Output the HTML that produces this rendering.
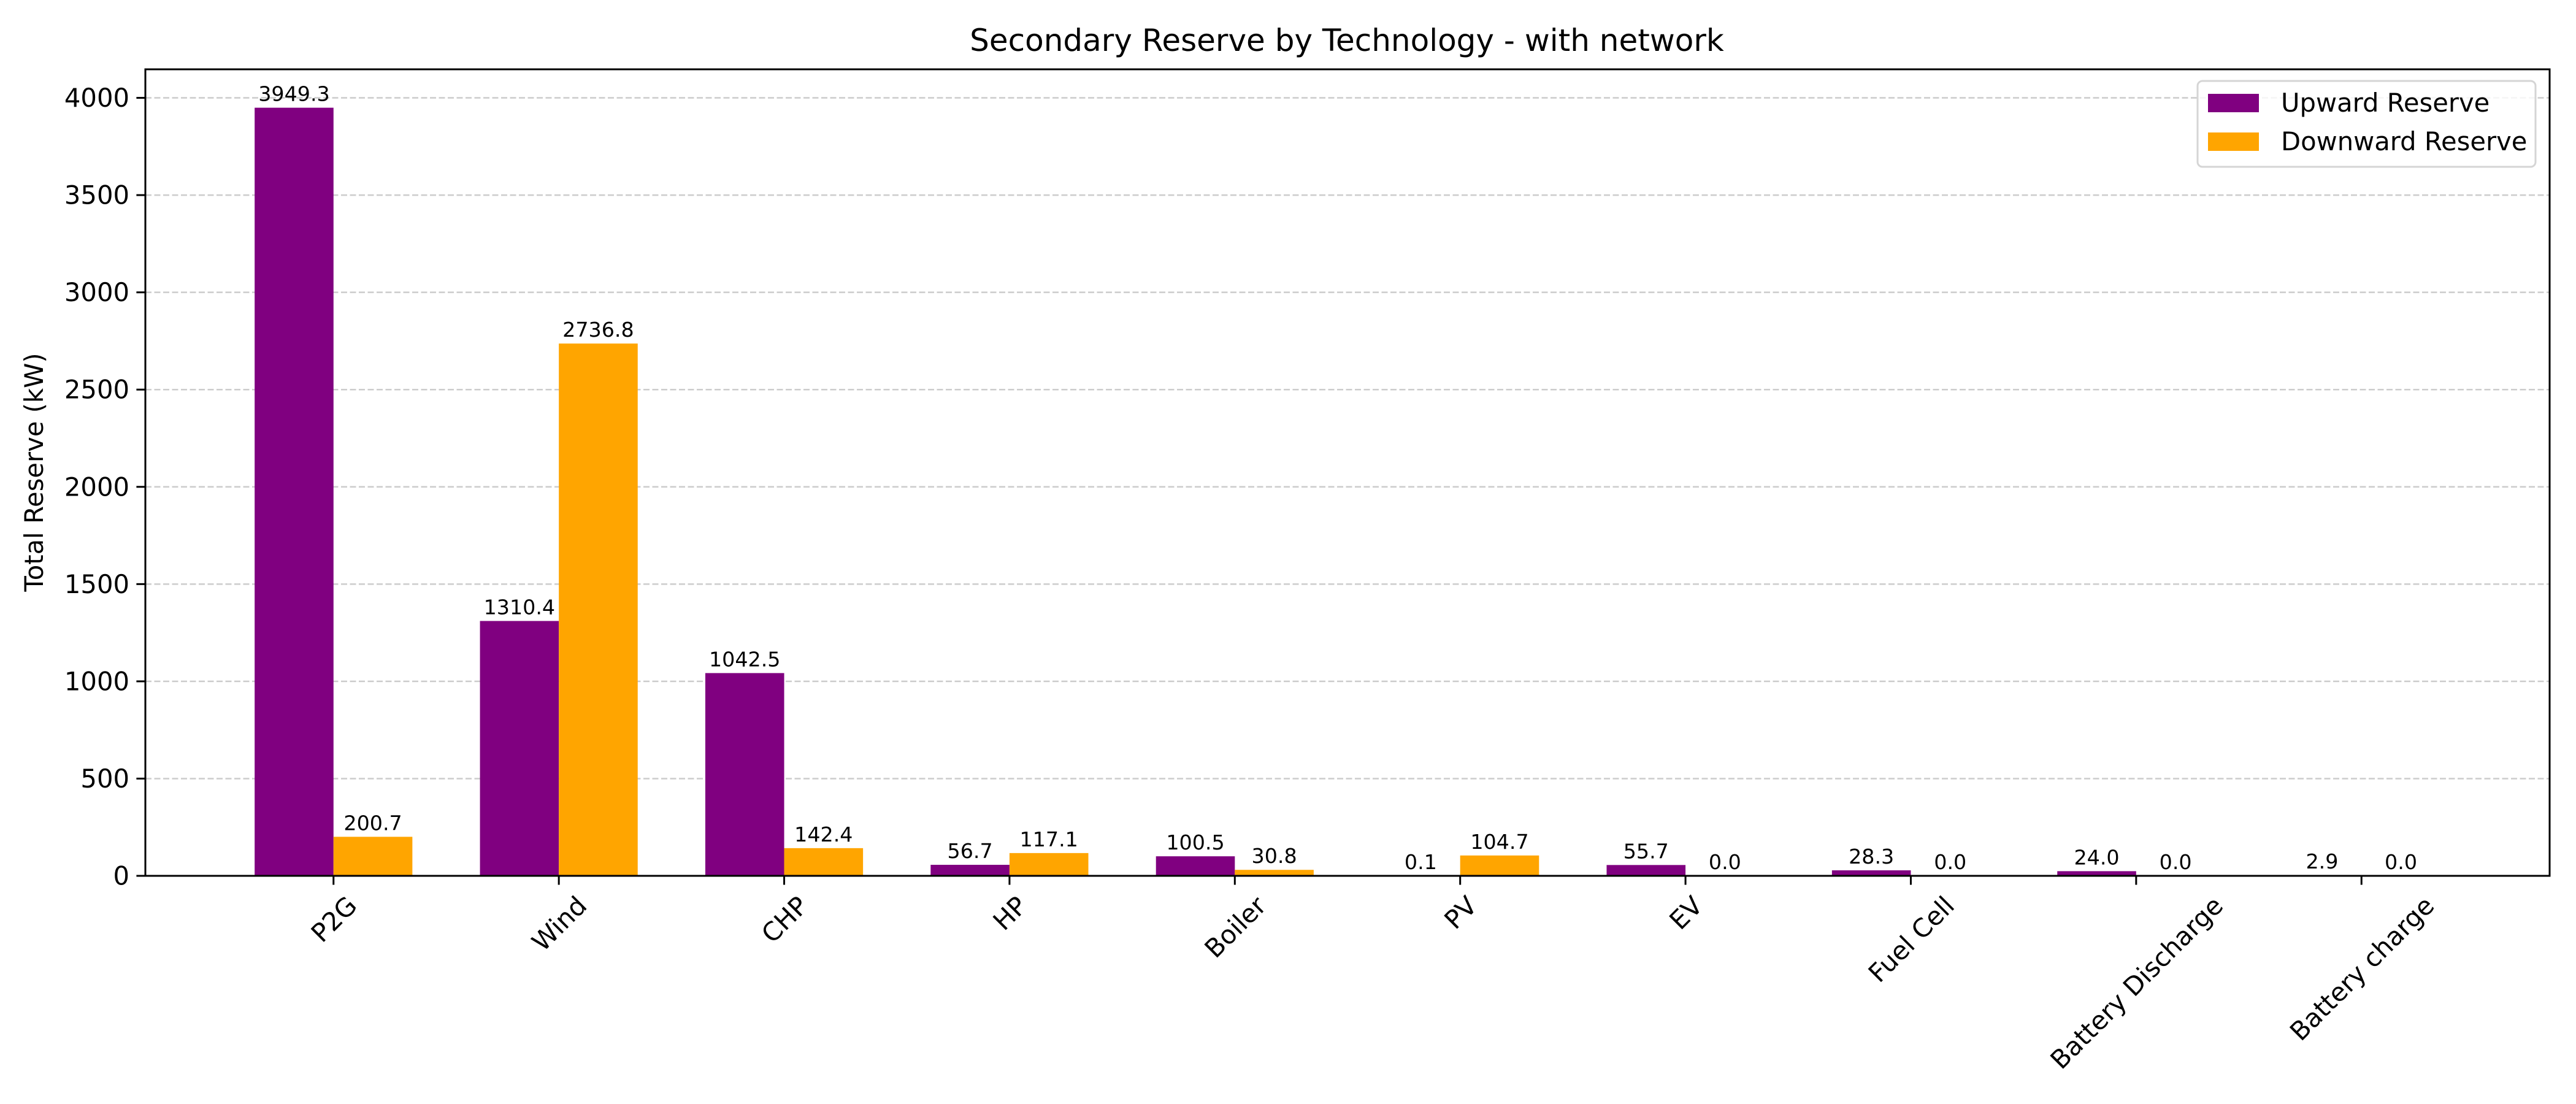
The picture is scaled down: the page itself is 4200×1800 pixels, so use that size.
<!DOCTYPE html>
<html><head><meta charset="utf-8"><style>
html,body{margin:0;padding:0;background:#fff;}
svg{display:block;font-family:"DejaVu Sans","Liberation Sans",sans-serif;}
</style></head><body>
<svg id="chart" width="4200" height="1800" viewBox="0 0 4200 1800" xmlns="http://www.w3.org/2000/svg">
<rect width="4200" height="1800" fill="#fff"/>
<text x="2196" y="83" text-anchor="middle" font-size="50">Secondary Reserve by Technology - with network</text>
<text transform="translate(70,770) rotate(-90)" text-anchor="middle" font-size="41.7">Total Reserve (kW)</text>
<g id="grid"></g><g id="bars"></g><g id="labels"></g><g id="axes"></g>
<g>
<rect x="3583" y="132" width="551" height="140" rx="8" fill="#fff" fill-opacity="0.8" stroke="#d5d5d5" stroke-width="3"/>
<rect x="3600" y="153" width="83" height="30" fill="#800080"/>
<text x="3719" y="182" font-size="41.7">Upward Reserve</text>
<rect x="3600" y="216" width="83" height="30" fill="#FFA500"/>
<text x="3719" y="245" font-size="41.7">Downward Reserve</text>
</g>
</svg>
<script>
const categories = ["P2G","Wind","CHP","HP","Boiler","PV","EV","Fuel Cell","Battery Discharge","Battery charge"];
const upward = [3949.3,1310.4,1042.5,56.7,100.5,0.1,55.7,28.3,24.0,2.9];
const downward = [200.7,2736.8,142.4,117.1,30.8,104.7,0.0,0.0,0.0,0.0];
const yTicks = [0,500,1000,1500,2000,2500,3000,3500,4000];

const NS="http://www.w3.org/2000/svg";
const L=237,R=4157,T=113,B=1428;
const bw=0.35;
const n=categories.length;
const xmin=-bw-0.05*((n-1)+2*bw), xmax=(n-1)+bw+0.05*((n-1)+2*bw);
const ymax=Math.max(...upward,...downward)*1.05;
const xs=v=>L+(v-xmin)/(xmax-xmin)*(R-L);
const ys=v=>B-v/ymax*(B-T);
function mk(tag,attrs,parent){const e=document.createElementNS(NS,tag);for(const k in attrs)e.setAttribute(k,attrs[k]);parent.appendChild(e);return e;}
const grid=document.getElementById('grid'),bars=document.getElementById('bars'),labels=document.getElementById('labels'),axes=document.getElementById('axes');

yTicks.forEach(t=>{
  const y=ys(t);
  const g=mk('line',{x1:L,x2:R,y1:y,y2:y,stroke:'#cccccc','stroke-width':2.5,'stroke-dasharray':'10 4.5'},grid);
  
  
  const tk=mk('line',{x1:L-14.6,x2:L,y1:y,y2:y,stroke:'#000','stroke-width':3},axes);
  
  
  const tx=mk('text',{x:L-26,y:y+14.5,'text-anchor':'end','font-size':41.7},axes);
  tx.textContent=t;
  
  
});

function drawSeries(vals,off,color,name){
  vals.forEach((v,i)=>{
    const x0=xs(i+off-bw/2),x1=xs(i+off+bw/2),y=ys(v);
    const r=mk('rect',{x:x0,y:y,width:x1-x0,height:B-y,fill:color},bars);
    
    
    const t=mk('text',{x:(x0+x1)/2,y:y-11,'text-anchor':'middle','font-size':33.3},labels);
    t.textContent=v.toFixed(1);
    
    
  });
}
drawSeries(upward,-bw/2,'#800080','upward');
drawSeries(downward,bw/2,'#FFA500','downward');

const frame=mk('rect',{x:L,y:T,width:R-L,height:B-T,fill:'none',stroke:'#000','stroke-width':3},axes);



categories.forEach((c,i)=>{
  const x=xs(i);
  const tk=mk('line',{x1:x,x2:x,y1:B,y2:B+14.6,stroke:'#000','stroke-width':3},axes);
  
  
  const t=mk('text',{'text-anchor':'middle','font-size':41.7},axes);
  t.textContent=c;
  
  
  const w=t.getComputedTextLength();
  const h=41.7*0.75;
  const bh=(w+h)*Math.SQRT1_2;
  const cy=B+14.6+14.6+bh/2;
  t.setAttribute('transform','translate('+x+','+cy+') rotate(-45)');
  t.setAttribute('y',h*0.5);
});
</script>
</body></html>
